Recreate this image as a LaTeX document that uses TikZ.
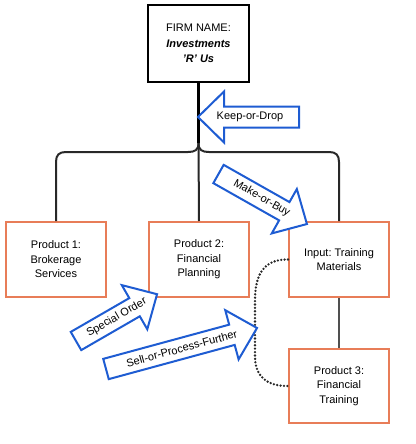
\documentclass[tikz,border=0pt]{standalone}
\usepackage{fontspec}
\setmainfont{Liberation Sans}
\frenchspacing
\definecolor{boxorange}{RGB}{232,125,88}
\definecolor{arrowblue}{RGB}{30,92,210}
\definecolor{darkline}{RGB}{40,40,40}
\definecolor{midgray}{RGB}{80,80,80}
\tikzset{
  prodbox/.style={draw=boxorange, line width=2pt, fill=white, minimum width=100pt, minimum height=75pt, align=center, inner sep=2pt, font=\fontsize{11}{14.5}\selectfont},
  firmbox/.style={draw=black, line width=2.4pt, fill=white, minimum width=101pt, minimum height=77pt, align=center, inner sep=2pt, font=\fontsize{11}{15.5}\selectfont},
  blockarrow/.style={draw=arrowblue, line width=2pt, fill=white, line join=miter},
  arrowtext/.style={font=\fontsize{11}{13}\selectfont, inner sep=0pt},
  trunk/.style={draw=black, line width=2.4pt},
  branch/.style={draw=darkline, line width=2pt},
  dotline/.style={draw=darkline, line width=2.6pt, line cap=round, dash pattern=on 0pt off 3.4pt}
}
\newcommand{\myblockarrow}[8]{%
  \begin{scope}[shift={(#1,#2)}, rotate=#3]
    \draw[blockarrow] (0,10.5) -- ({#4-26},10.5) -- ({#4-26},25.5) -- (#4,0) -- ({#4-26},-25.5) -- ({#4-26},-10.5) -- (0,-10.5) -- cycle;
    \node[arrowtext, rotate=#8] (#7) at (#5,0) {#6};
  \end{scope}}
\begin{document}
\begin{tikzpicture}[x=1pt, y=-1pt]
\useasboundingbox (0,0) rectangle (415,444);
% nodes
\node[firmbox] (firm) at (198.5,43.5) {FIRM NAME:\\\textbf{\textit{Investments}}\\\textbf{\textit{'R' Us}}};
\node[prodbox] (p1) at (56,259.5) {Product 1:\\Brokerage\\Services};
\node[prodbox] (p2) at (199,259.5) {Product 2:\\Financial\\Planning};
\node[prodbox] (inp) at (339,259.5) {Input: Training\\Materials};
\node[prodbox, minimum height=74pt] (p3) at (339,386) {Product 3:\\Financial\\Training};
\coordinate (br) at (198.5,143);
% connectors
\draw[branch] (p1.north) -- (56,162) .. controls (56,155) and (59,152) .. (66,152) -- (188,152) .. controls (195,152) and (198.5,150) .. (br);
\draw[branch] (inp.north) -- (339,162) .. controls (339,155) and (336,152) .. (329,152) -- (209,152) .. controls (202,152) and (198.5,150) .. (br);
\draw[trunk] (firm.south) -- (br);
\draw[branch] (br) -- (p2.north);
\draw[draw=midgray, line width=2.6pt] (inp.south) -- (p3.north);
\draw[dotline] (inp.west) .. controls (266,259) and (255,272) .. (255,300) -- (255,356) .. controls (255,376) and (266,386) .. (p3.west);
% block arrows
\myblockarrow{299}{117}{180}{101}{49}{Keep-or-Drop}{kod}{0}
\myblockarrow{218.5}{174}{-29.5}{101.6}{49.7}{Make-or-Buy}{mob}{-29.5}
\myblockarrow{76}{341}{30}{93.6}{47}{Special Order}{so}{30}
\myblockarrow{106}{369}{15.2}{156.5}{78.5}{Sell-or-Process-Further}{spf}{15.2}
\end{tikzpicture}
\end{document}
